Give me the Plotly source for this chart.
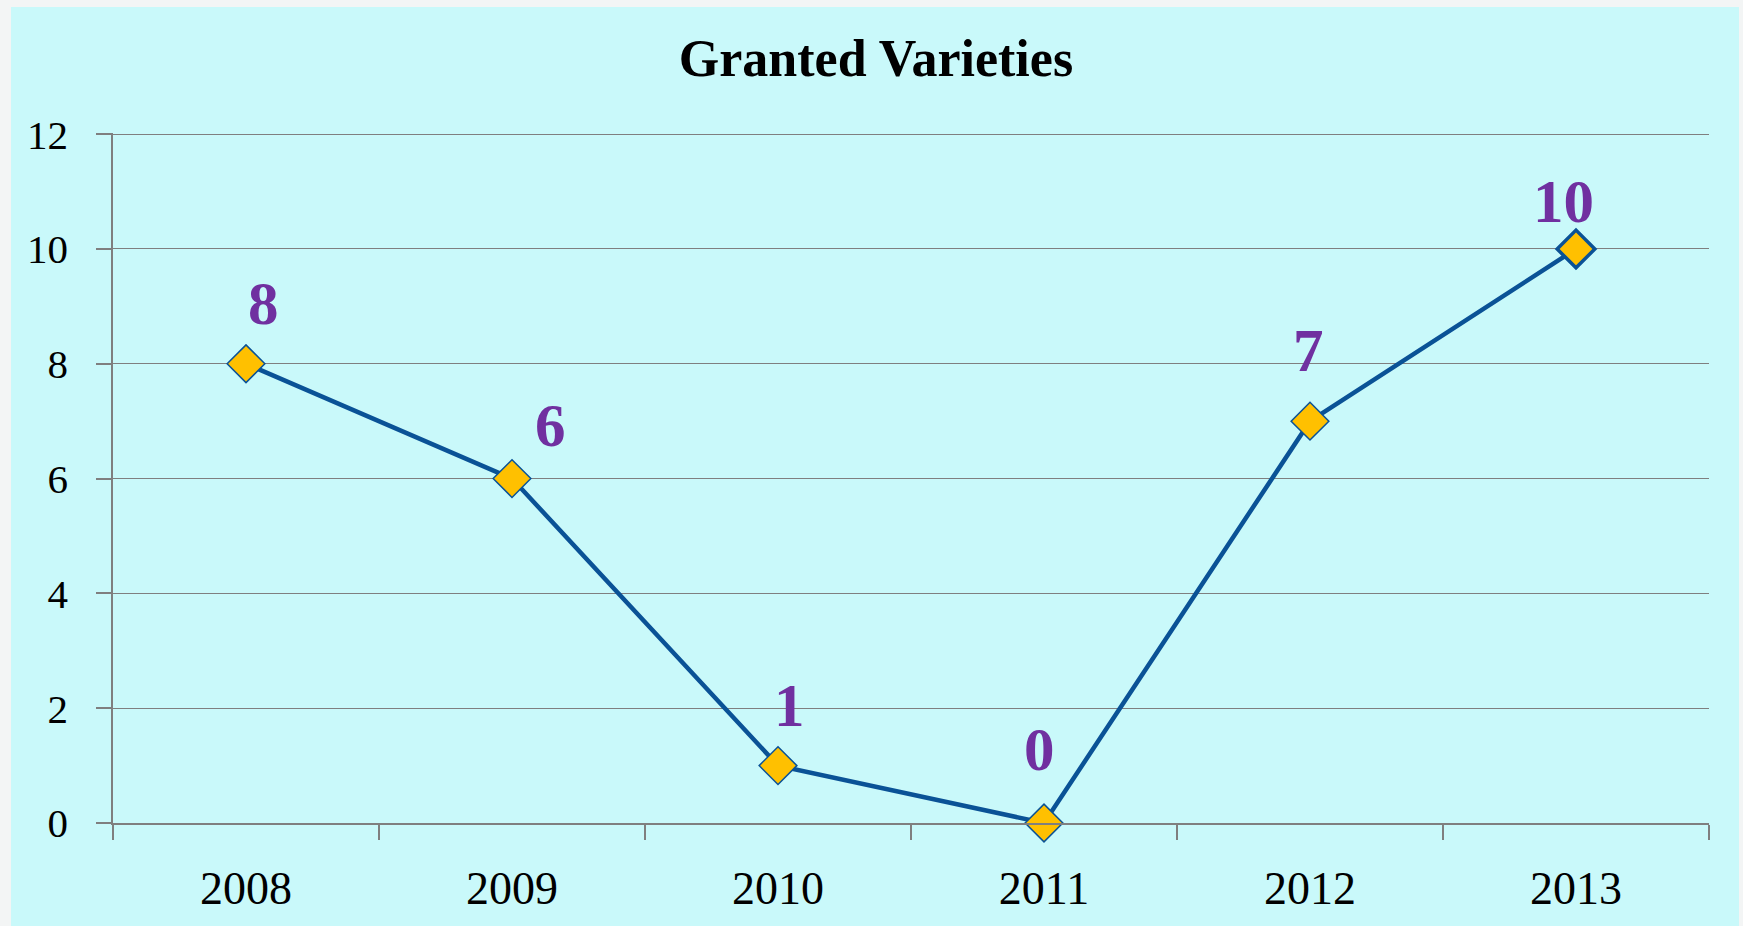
import plotly.graph_objects as go

# ---- data ----
years = ["2008", "2009", "2010", "2011", "2012", "2013"]
granted = [8, 6, 1, 0, 7, 10]
y_ticks = [0, 2, 4, 6, 8, 10, 12]
title_text = "Granted Varieties"

# ---- styling / label placement (pixels) ----
label_dx = [17, 38, 11, -5, -2, -13]
label_dy = [60, 53, 60, 74, 71, 47]
marker_outline = [1.5, 1.5, 1.5, 1.5, 1.5, 3.5]

CYAN = "#C9F9FA"
LINE = "#0A5296"
GRID = "#7F7F7F"
PURPLE = "#7030A0"
FONT = "Liberation Serif"

W, H = 1743, 926
L, R, T, B = 113, 34, 133, 103
pw = W - L - R
ph = H - T - B

fig = go.Figure()
fig.add_trace(go.Scatter(
    x=years, y=granted, mode="lines+markers",
    line=dict(color=LINE, width=4.5),
    marker=dict(symbol="diamond", size=29, color="#FFC000",
                line=dict(color=LINE, width=marker_outline)),
    cliponaxis=False,
    showlegend=False, hoverinfo="x+y",
))

# data labels: category index on the x axis, value on the y axis
for i, v in enumerate(granted):
    fig.add_annotation(
        x=i, y=v, xref="x", yref="y", text=f"<b>{v}</b>", showarrow=False,
        xshift=label_dx[i], yshift=label_dy[i],
        xanchor="center", yanchor="middle",
        font=dict(family=FONT, size=61, color=PURPLE),
    )

# cyan background panel with a pale border around it
fig.add_shape(
    type="rect", xref="paper", yref="paper", layer="below",
    x0=(11 - L) / pw, x1=(1739 - L) / pw,
    y0=-(B + 20) / ph, y1=(H - B - 7) / ph,
    fillcolor=CYAN, line=dict(width=0),
)

fig.update_layout(
    width=W, height=H, autosize=False,
    margin=dict(l=L, r=R, t=T, b=B, pad=0),
    paper_bgcolor="#F3F5F5",
    plot_bgcolor=CYAN,
    title=dict(text=f"<b>{title_text}</b>", x=876 / W, xref="container",
               xanchor="center", y=1 - 58 / H, yref="container", yanchor="middle",
               font=dict(family=FONT, size=52, color="black")),
    font=dict(family=FONT, color="black"),
    xaxis=dict(
        type="category", range=[-0.5, 5.5],
        tickson="boundaries", ticks="outside", ticklen=15, tickwidth=1.5,
        tickcolor=GRID, showline=True, linecolor=GRID, linewidth=1.5,
        showgrid=False, zeroline=False,
        tickfont=dict(family=FONT, size=46, color="black"),
        ticklabelstandoff=24,
    ),
    yaxis=dict(
        range=[0, 12.02], tickvals=y_ticks, ticktext=[str(t) for t in y_ticks],
        ticks="outside", ticklen=15, tickwidth=1.5, tickcolor=GRID,
        showline=True, linecolor=GRID, linewidth=1.5,
        showgrid=True, gridcolor=GRID, gridwidth=1.3, zeroline=False,
        tickfont=dict(family=FONT, size=41, color="black"),
        ticklabelstandoff=20,
    ),
)

fig.write_html("out.html", config={"displayModeBar": False},
               post_script="document.body.style.margin='0';")
